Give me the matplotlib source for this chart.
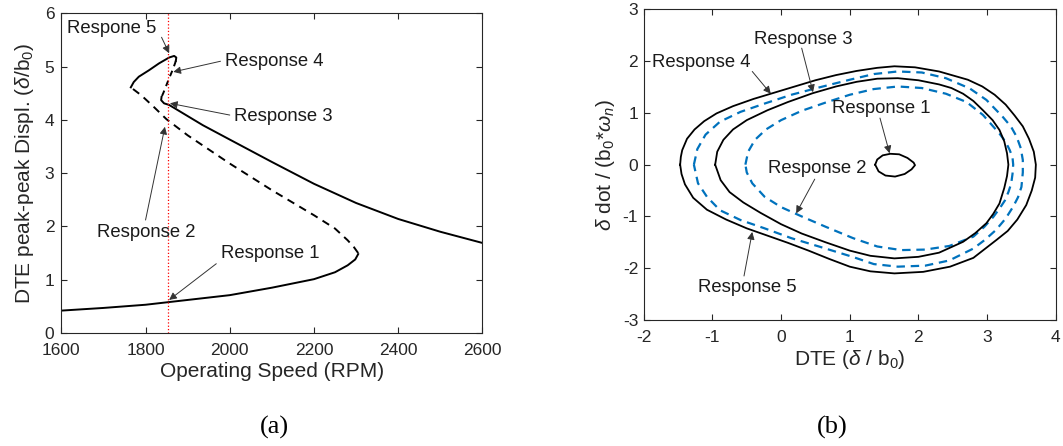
import matplotlib
matplotlib.use('Agg')
import matplotlib.pyplot as plt

# Frequency response branches (operating speed in RPM, peak-peak DTE)
rpm_r1 = [1600, 1700, 1800, 1900, 2000, 2100, 2200, 2250, 2280, 2298, 2305]
amp_r1 = [0.42, 0.47, 0.53, 0.62, 0.71, 0.85, 1.01, 1.14, 1.27, 1.38, 1.48]
rpm_r2 = [2305, 2295, 2280, 2250, 2200, 2100, 2000, 1900, 1850, 1820, 1790, 1765]
amp_r2 = [1.50, 1.61, 1.74, 1.96, 2.21, 2.68, 3.18, 3.71, 4.01, 4.24, 4.46, 4.61]
rpm_r5 = [1765, 1772, 1784, 1808, 1832, 1856, 1868, 1873, 1872]
amp_r5 = [4.61, 4.71, 4.81, 4.93, 5.06, 5.17, 5.20, 5.17, 5.11]
rpm_r4 = [1872, 1870, 1864, 1856, 1848, 1842, 1838]
amp_r4 = [5.11, 5.06, 4.93, 4.78, 4.62, 4.50, 4.43]
rpm_r3 = [1838, 1837, 1844, 1856, 1896, 1936, 2000, 2100, 2200, 2300, 2400, 2500, 2600]
amp_r3 = [4.43, 4.37, 4.31, 4.28, 4.09, 3.90, 3.63, 3.21, 2.80, 2.44, 2.14, 1.90, 1.69]
speed_marker = 1853

# Phase orbits at the marked speed (DTE, velocity)
orbit1_x = [1.37, 1.40, 1.48, 1.59, 1.72, 1.84, 1.93, 1.95, 1.90, 1.80, 1.66, 1.52, 1.42, 1.37]
orbit1_y = [0.00, 0.10, 0.18, 0.21, 0.20, 0.13, 0.04, -0.01, -0.09, -0.18, -0.23, -0.21, -0.13, 0.00]

orbit2_x = [-0.52, -0.48, -0.38, -0.22, 0.00, 0.30, 0.65, 1.00, 1.35, 1.70, 2.05, 2.40, 2.70,
            2.94, 3.18, 3.27, 3.33, 3.37, 3.38, 3.37, 3.35, 3.31, 3.26, 3.18, 3.09, 2.96, 2.80,
            2.45, 2.10, 1.75, 1.40, 1.05, 0.65, 0.30, 0.00, -0.24, -0.42, -0.50, -0.52]
orbit2_y = [0.00, 0.25, 0.48, 0.68, 0.86, 1.04, 1.20, 1.35, 1.46, 1.51, 1.48, 1.37, 1.21,
            0.96, 0.60, 0.44, 0.28, 0.14, 0.00, -0.18, -0.37, -0.53, -0.69, -0.85, -1.01, -1.20, -1.39,
            -1.57, -1.64, -1.65, -1.58, -1.42, -1.20, -1.00, -0.82, -0.62, -0.36, -0.15, 0.00]

orbit3_x = [-0.96, -0.93, -0.84, -0.70, -0.50, -0.20, 0.10, 0.46, 0.80, 1.10, 1.40, 1.70, 2.00,
            2.30, 2.48, 2.65, 2.80, 2.94, 3.08, 3.18, 3.25, 3.29, 3.31, 3.29, 3.25, 3.18, 3.09,
            2.99, 2.83, 2.65, 2.30, 2.00, 1.65, 1.30, 1.00, 0.65, 0.30, 0.00, -0.30, -0.55, -0.75,
            -0.88, -0.96]
orbit3_y = [0.00, 0.25, 0.48, 0.68, 0.86, 1.05, 1.21, 1.38, 1.51, 1.60, 1.66, 1.67, 1.63,
            1.55, 1.48, 1.37, 1.23, 1.05, 0.86, 0.67, 0.45, 0.22, 0.00, -0.22, -0.45, -0.75, -0.95,
            -1.13, -1.32, -1.49, -1.70, -1.78, -1.81, -1.76, -1.66, -1.50, -1.33, -1.15, -0.93, -0.73, -0.53,
            -0.30, 0.00]

orbit4_x = [-1.47, -1.46, -1.44, -1.37, -1.26, -1.12, -0.94, -0.70, -0.40, -0.10, 0.20, 0.50, 0.80,
            1.10, 1.40, 1.65, 1.95, 2.30, 2.72, 2.93, 3.11, 3.27, 3.40, 3.52, 3.61, 3.68, 3.71,
            3.70, 3.65, 3.57, 3.44, 3.30, 3.14, 2.80, 2.46, 2.07, 1.65, 1.30, 1.00, 0.70, 0.40,
            0.10, -0.20, -0.50, -0.80, -1.08, -1.28, -1.40, -1.45, -1.47]
orbit4_y = [0.00, 0.15, 0.28, 0.50, 0.68, 0.84, 0.99, 1.13, 1.27, 1.39, 1.51, 1.63, 1.73,
            1.81, 1.87, 1.90, 1.88, 1.80, 1.64, 1.51, 1.35, 1.16, 0.95, 0.74, 0.50, 0.25, 0.00,
            -0.25, -0.50, -0.78, -1.06, -1.28, -1.45, -1.80, -1.97, -2.07, -2.10, -2.06, -1.97, -1.82, -1.66,
            -1.51, -1.37, -1.23, -1.06, -0.87, -0.64, -0.38, -0.18, 0.00]

orbit5_x = [-1.27, -1.22, -1.10, -0.89, -0.59, -0.24, 0.15, 0.55, 1.00, 1.35, 1.70, 2.05, 2.40,
            2.75, 2.99, 3.23, 3.35, 3.43, 3.49, 3.52, 3.52, 3.50, 3.45, 3.38, 3.27, 3.13, 2.97,
            2.80, 2.45, 2.10, 1.70, 1.35, 1.04, 0.55, 0.15, -0.24, -0.59, -0.89, -1.08, -1.21, -1.27]
orbit5_y = [0.00, 0.30, 0.58, 0.83, 1.02, 1.18, 1.35, 1.49, 1.64, 1.75, 1.80, 1.78, 1.67,
            1.47, 1.25, 0.92, 0.73, 0.54, 0.32, 0.09, -0.15, -0.43, -0.63, -0.81, -1.04, -1.26, -1.45,
            -1.62, -1.85, -1.95, -1.97, -1.92, -1.78, -1.58, -1.42, -1.23, -1.07, -0.88, -0.62, -0.36, 0.00]

# Callouts: label, text position, arrow tail, arrow tip
labels_a = ['Respone 5', 'Response 4', 'Response 3', 'Response 2', 'Response 1']
text_a = [(1720, 5.72), (2105, 5.09), (2127, 4.06), (1802, 1.88), (2097, 1.49)]
tail_a = [(1838, 5.55), (1978, 5.10), (2000, 4.09), (1800, 2.12), (1968, 1.30)]
tip_a = [(1856, 5.25), (1866, 4.90), (1858, 4.31), (1846, 3.87), (1856, 0.62)]

labels_b = ['Response 3', 'Response 4', 'Response 1', 'Response 2', 'Response 5']
text_b = [(0.32, 2.42), (-1.16, 1.97), (1.455, 1.09), (0.525, -0.07), (-0.49, -2.37)]
tail_b = [(0.30, 2.25), (-0.42, 1.80), (1.44, 0.90), (0.49, -0.28), (-0.54, -2.15)]
tip_b = [(0.465, 1.40), (-0.15, 1.37), (1.58, 0.22), (0.22, -0.94), (-0.42, -1.30)]

GREY = '#262626'
BLUE = '#0072BD'

plt.rcParams['font.family'] = ['Liberation Sans', 'DejaVu Sans']
plt.rcParams['mathtext.fontset'] = 'custom'
plt.rcParams['mathtext.rm'] = 'Liberation Sans'
plt.rcParams['mathtext.it'] = 'Liberation Sans:italic'
plt.rcParams['axes.unicode_minus'] = False
plt.rcParams['font.size'] = 12.5


def style_axes(ax, xpad, ypad):
    ax.tick_params(direction='in', top=True, right=True, length=4, width=0.8,
                   colors=GREY, labelsize=12.5)
    ax.tick_params(axis='x', pad=xpad)
    ax.tick_params(axis='y', pad=ypad)
    for s in ax.spines.values():
        s.set_color(GREY)
        s.set_linewidth(0.8)


def callouts(ax, labels, texts, tails, tips):
    for lab, t, a, b in zip(labels, texts, tails, tips):
        ax.text(t[0], t[1], lab, ha='center', va='center', fontsize=13.3, color='#1a1a1a')
        ax.annotate('', xy=b, xytext=a,
                    arrowprops=dict(arrowstyle='-|>', color='#333333', lw=0.7,
                                    mutation_scale=11, shrinkA=0, shrinkB=0))


def plot_responses():
    fig = plt.figure(figsize=(10.63, 4.46), dpi=100)

    # (a) frequency response
    ax1 = fig.add_axes([0.0577, 0.2534, 0.3961, 0.7168])
    ax1.plot(rpm_r1, amp_r1, color='k', lw=1.4)
    ax1.plot(rpm_r2, amp_r2, color='k', lw=1.4, ls=(0, (4, 3)))
    ax1.plot(rpm_r5, amp_r5, color='k', lw=1.4)
    ax1.plot(rpm_r4, amp_r4, color='k', lw=1.4, ls=(0, (3, 2.5)))
    ax1.plot(rpm_r3, amp_r3, color='k', lw=1.4)
    ax1.axvline(speed_marker, color='red', lw=0.9, ls=':')
    callouts(ax1, labels_a, text_a, tail_a, tip_a)
    ax1.set_xlim(1600, 2600)
    ax1.set_ylim(0, 6)
    ax1.set_xticks(range(1600, 2601, 200))
    ax1.set_yticks(range(0, 7))
    ax1.set_xlabel('Operating Speed (RPM)', color=GREY, fontsize=15, labelpad=3)
    ax1.set_ylabel(r'DTE peak-peak Displ. ($\delta$/b$_0$)', color=GREY, fontsize=15, labelpad=6)
    style_axes(ax1, 7, 5)

    # (b) phase plane
    ax2 = fig.add_axes([0.6056, 0.2825, 0.3876, 0.6966])
    ax2.plot(orbit1_x, orbit1_y, color='k', lw=1.3)
    ax2.plot(orbit2_x, orbit2_y, color=BLUE, lw=1.6, ls=(0, (3.8, 2.6)))
    ax2.plot(orbit3_x, orbit3_y, color='k', lw=1.3)
    ax2.plot(orbit4_x, orbit4_y, color='k', lw=1.3)
    ax2.plot(orbit5_x, orbit5_y, color=BLUE, lw=1.6, ls=(0, (3.8, 2.6)))
    callouts(ax2, labels_b, text_b, tail_b, tip_b)
    ax2.set_xlim(-2, 4)
    ax2.set_ylim(-3, 3)
    ax2.set_xticks(range(-2, 5))
    ax2.set_yticks(range(-3, 4))
    ax2.set_xlabel(r'DTE ($\delta$ / b$_0$)', color=GREY, fontsize=15, labelpad=2)
    ax2.set_ylabel(r'$\delta$ dot / (b$_0$*$\omega_n$)', color=GREY, fontsize=15, labelpad=4)
    style_axes(ax2, 7, 4)

    fig.text(0.2584, 0.041, '(a)', family='Liberation Serif', fontsize=19,
             ha='center', va='center')
    fig.text(0.783, 0.041, '(b)', family='Liberation Serif', fontsize=19,
             ha='center', va='center')

    fig.savefig('out.png', dpi=100)


if __name__ == '__main__':
    plot_responses()
